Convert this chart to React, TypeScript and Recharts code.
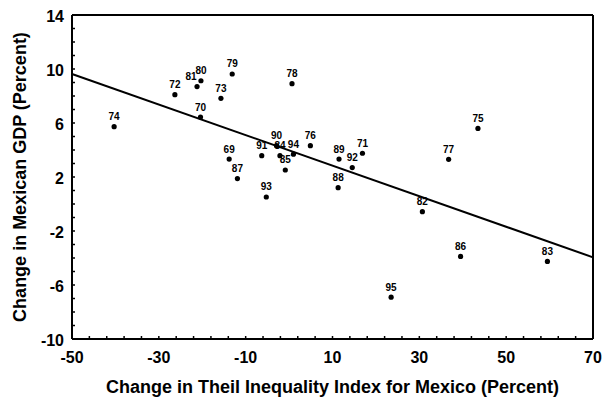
import React from "react";
import {
  ScatterChart,
  Scatter,
  XAxis,
  YAxis,
  ReferenceLine,
  Label,
} from "recharts";

const years = [
  "69", "70", "71", "72", "73", "74", "75", "76", "77", "78", "79", "80", "81",
  "82", "83", "84", "85", "86", "87", "88", "89", "90", "91", "92", "93", "94", "95",
];
const theilChange = [
  -13.8, -20.4, 16.9, -26.3, -15.7, -40.3, 43.5, 4.9, 36.75, 0.67, -13.1, -20.3,
  -21.2, 30.7, 59.5, -2.1, -0.87, 39.5, -11.9, 11.3, 11.5, -2.9, -6.3, 14.55,
  -5.25, 1.0, 23.5,
];
const gdpChange = [
  3.33, 6.44, 3.76, 8.1, 7.83, 5.73, 5.6, 4.32, 3.31, 8.91, 9.63, 9.13, 8.7,
  -0.57, -4.25, 3.58, 2.52, -3.88, 1.88, 1.21, 3.33, 4.32, 3.58, 2.7, 0.52,
  3.69, -6.9,
];

const fitLine = [
  { x: -50, y: 9.63 },
  { x: 70, y: -3.95 },
];

const xMajorTicks = [-50, -30, -10, 10, 30, 50, 70];
const yMajorTicks = [-10, -6, -2, 2, 6, 10, 14];

const xTicks: number[] = [];
for (let v = -50; v <= 70; v += 4) xTicks.push(v);
const yTicks: number[] = [];
for (let v = -10; v <= 14; v += 1) yTicks.push(v);

// labels that sit beside their dot instead of straight above it
const labelShift: Record<string, number> = { "81": -6 };

const points = years.map((year, i) => ({
  year,
  x: theilChange[i],
  y: gdpChange[i],
}));

const FONT = "Arial, 'Liberation Sans', sans-serif";

const makeTick = (side: "bottom" | "top" | "left" | "right") => (props: any) => {
  const { x, y, payload } = props;
  const v = payload.value;
  const len = 3;
  if (side === "bottom") {
    const major = xMajorTicks.includes(v);
    return (
      <g>
        <line x1={x} y1={y} x2={x} y2={y - len} stroke="#000" strokeWidth={1.5} />
        {major && (
          <text x={x} y={y + 18} textAnchor="middle" dominantBaseline="central"
            fontSize={16} fontWeight="bold" fontFamily={FONT} fill="#000">
            {v}
          </text>
        )}
      </g>
    );
  }
  if (side === "top") {
    return <line x1={x} y1={y} x2={x} y2={y + len} stroke="#000" strokeWidth={1.5} />;
  }
  if (side === "left") {
    const major = yMajorTicks.includes(v);
    return (
      <g>
        <line x1={x} y1={y} x2={x + len} y2={y} stroke="#000" strokeWidth={1.5} />
        {major && (
          <text x={x - 8} y={y + 1} textAnchor="end" dominantBaseline="central"
            fontSize={16} fontWeight="bold" fontFamily={FONT} fill="#000">
            {v}
          </text>
        )}
      </g>
    );
  }
  return <line x1={x} y1={y} x2={x - len} y2={y} stroke="#000" strokeWidth={1.5} />;
};

const renderPoint = (props: any) => {
  const { cx, cy, payload } = props;
  const dx = labelShift[payload.year] || 0;
  return (
    <g>
      <circle cx={cx} cy={cy} r={2.6} fill="#000" />
      <text x={cx + dx} y={cy - 6.5} textAnchor="middle" fontSize={10}
        fontWeight="bold" fontFamily={FONT} fill="#000">
        {payload.year}
      </text>
    </g>
  );
};

const axisLine = { stroke: "#000", strokeWidth: 2 };

export default function App() {
  return (
    <div style={{ position: "absolute", left: 0, top: 0, background: "#fff" }}>
      <ScatterChart
        width={605}
        height={398}
        margin={{ top: 0, right: 0, bottom: 0, left: 0 }}
      >
        <XAxis
          type="number"
          dataKey="x"
          domain={[-50, 70]}
          ticks={xTicks}
          interval={0}
          tickSize={0}
          tickMargin={0}
          height={59}
          axisLine={axisLine}
          tickLine={false}
          tick={makeTick("bottom")}
        >
          <Label
            content={(p: any) => {
              const vb = p.viewBox;
              return (
                <text x={vb.x + vb.width / 2} y={vb.y + 48} textAnchor="middle"
                  dominantBaseline="central" fontSize={18} fontWeight="bold"
                  fontFamily={FONT} fill="#000">
                  Change in Theil Inequality Index for Mexico (Percent)
                </text>
              );
            }}
          />
        </XAxis>
        <XAxis
          xAxisId="top"
          orientation="top"
          type="number"
          domain={[-50, 70]}
          ticks={xTicks}
          interval={0}
          tickSize={0}
          tickMargin={0}
          height={15}
          axisLine={axisLine}
          tickLine={false}
          tick={makeTick("top")}
        />
        <YAxis
          type="number"
          dataKey="y"
          domain={[-10, 14]}
          ticks={yTicks}
          interval={0}
          tickSize={0}
          tickMargin={0}
          width={72}
          axisLine={axisLine}
          tickLine={false}
          tick={makeTick("left")}
        >
          <Label
            content={(p: any) => {
              const vb = p.viewBox;
              const cy = vb.y + vb.height / 2;
              return (
                <text x={20} y={cy} transform={`rotate(-90, 20, ${cy})`}
                  textAnchor="middle" dominantBaseline="central" fontSize={18}
                  fontWeight="bold" fontFamily={FONT} fill="#000">
                  Change in Mexican GDP (Percent)
                </text>
              );
            }}
          />
        </YAxis>
        <YAxis
          yAxisId="right"
          orientation="right"
          type="number"
          domain={[-10, 14]}
          ticks={yTicks}
          interval={0}
          tickSize={0}
          tickMargin={0}
          width={12}
          axisLine={axisLine}
          tickLine={false}
          tick={makeTick("right")}
        />
        <ReferenceLine
          segment={fitLine}
          stroke="#000"
          strokeWidth={2}
        />
        <Scatter data={points} shape={renderPoint} isAnimationActive={false} />
      </ScatterChart>
    </div>
  );
}
